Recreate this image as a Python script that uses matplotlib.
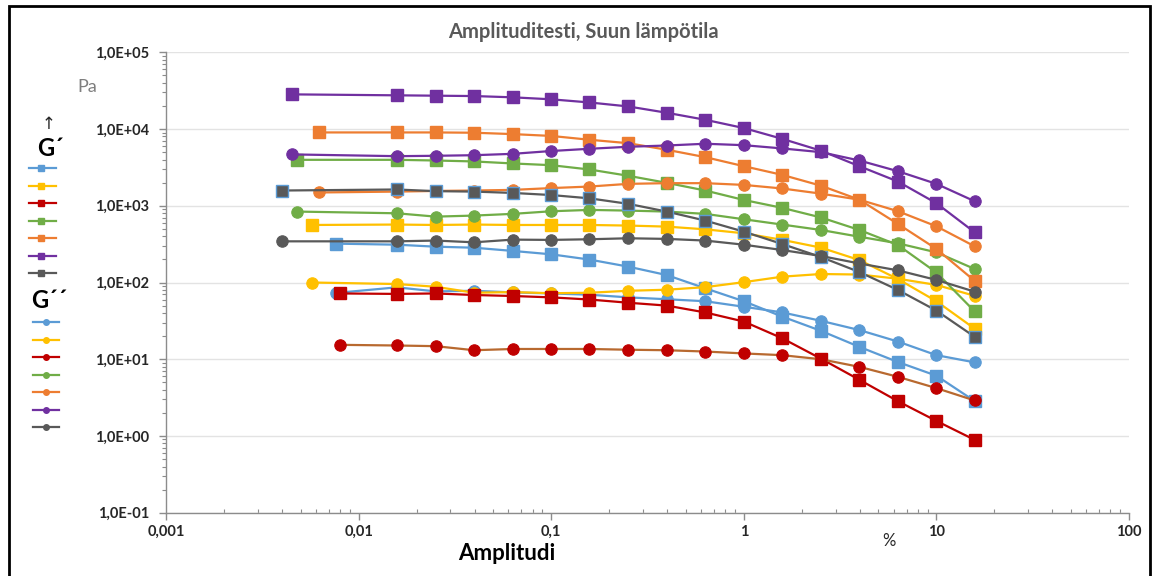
import matplotlib
matplotlib.use("Agg")
import matplotlib.pyplot as plt
from matplotlib.lines import Line2D
from matplotlib.patches import Rectangle
from matplotlib.ticker import LogLocator, FixedLocator, FixedFormatter, NullFormatter

plt.rcParams['font.family'] = ['Lato', 'DejaVu Sans']

# ---------------- data ----------------
x_common = [0.0158, 0.0251, 0.0398, 0.0631, 0.1, 0.158, 0.251, 0.398, 0.631,
            1.0, 1.58, 2.51, 3.98, 6.31, 10.0, 15.8]
first_x = [0.0076, 0.0057, 0.0080, 0.0048, 0.0062, 0.0045, 0.0040]

colors = ['#5B9BD5', '#FFC000', '#C00000', '#70AD47', '#ED7D31', '#7030A0', '#595959']
gpp_line_colors = ['#5B9BD5', '#FFC000', '#B8692F', '#70AD47', '#ED7D31', '#7030A0', '#595959']
gp_edge_colors = ['#5B9BD5', '#FFC000', '#C00000', '#70AD47', '#ED7D31', '#7030A0', '#5B9BD5']

g_blue_p = [321, 311, 293, 284, 258, 233, 199, 161, 125, 84, 57, 36, 23.5, 14.5, 9.2, 6.1, 2.85]
g_blue_pp = [73, 86.5, 76.6, 78, 74.3, 72, 69.3, 64, 60.5, 57, 48.3, 40.8, 31.7, 24, 17, 11.3, 9.1]
g_yellow_p = [562, 569, 562, 569, 562, 562, 562, 552, 535, 493, 438, 360, 285, 196, 111, 57, 25]
g_yellow_pp = [100, 95.5, 88, 73.5, 75, 72.5, 73.5, 78, 80.5, 87, 101, 119, 129, 127, 112, 93, 67]
g_red_p = [72, 71, 72, 68.7, 66.7, 64, 60, 54.5, 50, 40.7, 31, 18.8, 10.2, 5.4, 2.84, 1.57, 0.89]
g_red_pp = [15.4, 15.1, 14.8, 13.1, 13.6, 13.6, 13.6, 13.3, 13.1, 12.6, 11.9, 11.3, 10.0, 7.96, 5.9, 4.2, 2.9]
g_green_p = [3970, 3970, 3890, 3780, 3560, 3380, 2970, 2460, 1990, 1580, 1190, 940, 705, 484, 308, 135, 42]
g_green_pp = [840, 798, 722, 745, 784, 848, 883, 865, 840, 784, 667, 569, 484, 395, 324, 247, 150]
g_orange_p = [9030, 9030, 9030, 8950, 8590, 8130, 7250, 6540, 5370, 4300, 3280, 2530, 1830, 1200, 580, 274, 105]
g_orange_pp = [1490, 1530, 1560, 1580, 1610, 1700, 1780, 1930, 1970, 1970, 1870, 1680, 1440, 1200, 850, 540, 296]
g_purple_p = [28300, 27500, 27200, 26900, 25900, 24400, 22200, 19700, 16300, 13200, 10300, 7460, 5230, 3280, 2070, 1080, 451]
g_purple_pp = [4670, 4430, 4480, 4560, 4750, 5170, 5530, 5870, 6100, 6430, 6160, 5590, 5000, 3890, 2820, 1930, 1145]
g_gray_p = [1580, 1630, 1550, 1530, 1470, 1380, 1250, 1060, 840, 641, 460, 318, 215, 137, 80, 43, 19.6]
g_gray_pp = [344, 344, 352, 334, 362, 359, 366, 377, 370, 352, 311, 265, 222, 177, 144, 108, 76]

gp_series = [g_blue_p, g_yellow_p, g_red_p, g_green_p, g_orange_p, g_purple_p, g_gray_p]
gpp_series = [g_blue_pp, g_yellow_pp, g_red_pp, g_green_pp, g_orange_pp, g_purple_pp, g_gray_pp]

y_ticks = [1e-1, 1e0, 1e1, 1e2, 1e3, 1e4, 1e5]
y_ticklabels = ['1,0E-01', '1,0E+00', '1,0E+01', '1,0E+02', '1,0E+03', '1,0E+04', '1,0E+05']
x_ticks = [0.001, 0.01, 0.1, 1, 10, 100]
x_ticklabels = ['0,001', '0,01', '0,1', '1', '10', '100']

title = 'Amplituditesti, Suun lämpötila'

# ---------------- figure ----------------
W, H = 1158, 576
fig = plt.figure(figsize=(W / 100, H / 100), dpi=100)
fig.patch.set_facecolor('white')

ax = fig.add_axes([166 / W, 1 - 512.7 / H, (1129 - 166) / W, (512.7 - 52.3) / H])
ax.set_xscale('log')
ax.set_yscale('log')
ax.set_xlim(0.001, 100)
ax.set_ylim(0.1, 1e5)

for i in range(7):
    xs = [first_x[i]] + x_common
    ax.plot(xs, gp_series[i], color=colors[i], lw=1.6, marker='s', ms=8.2,
            mfc=colors[i], mec=gp_edge_colors[i], mew=1.0, zorder=3 + 2 * i)
    ax.plot(xs, gpp_series[i], color=gpp_line_colors[i], lw=1.6, marker='o', ms=8.2,
            mfc=colors[i], mec=colors[i], mew=0.8, zorder=4 + 2 * i)

# grid & spines
ax.yaxis.set_major_locator(FixedLocator(y_ticks))
ax.yaxis.set_major_formatter(FixedFormatter(y_ticklabels))
ax.xaxis.set_major_locator(FixedLocator(x_ticks))
ax.xaxis.set_major_formatter(FixedFormatter(x_ticklabels))
ax.yaxis.set_minor_locator(LogLocator(base=10, subs=range(2, 10), numticks=20))
ax.xaxis.set_minor_locator(LogLocator(base=10, subs=range(2, 10), numticks=20))
ax.xaxis.set_minor_formatter(NullFormatter())
ax.yaxis.set_minor_formatter(NullFormatter())

ax.grid(True, which='major', axis='y', color='#E3E3E3', lw=1.0, zorder=0)
ax.set_axisbelow(True)
for s in ['top', 'right']:
    ax.spines[s].set_visible(False)
for s in ['left', 'bottom']:
    ax.spines[s].set_color('#8C8C8C')
    ax.spines[s].set_linewidth(1.0)

ax.tick_params(axis='y', which='major', direction='out', length=5, width=1,
               color='#8C8C8C', pad=7, labelsize=10.5, labelcolor='#262626')
ax.tick_params(axis='y', which='minor', direction='out', length=3, width=0.8, color='#8C8C8C')
ax.tick_params(axis='x', which='major', direction='out', length=5, width=1,
               color='#8C8C8C', pad=4, labelsize=10.5, labelcolor='#262626')
ax.tick_params(axis='x', which='minor', direction='in', length=3, width=0.8, color='#8C8C8C')
for lab in ax.get_xticklabels() + ax.get_yticklabels():
    lab.set_fontweight('bold')

# ---------------- texts ----------------
fig.text(583 / W, 1 - 32 / H, title, ha='center', va='center', fontsize=14.5,
         fontweight='bold', color='#595959')
fig.text(507 / W, 1 - 554 / H, 'Amplitudi', ha='center', va='center', fontsize=16,
         fontweight='bold', color='black')
fig.text(889 / W, 1 - 541 / H, '%', ha='center', va='center', fontsize=12, color='#262626')
fig.text(87 / W, 1 - 87 / H, 'Pa', ha='center', va='center', fontsize=13, color='#7F7F7F')
fig.text(49 / W, 1 - 124 / H, '↑', ha='center', va='center', fontsize=12,
         color='#262626', family=['DejaVu Sans'])
fig.text(50 / W, 1 - 149 / H, 'G´', ha='center', va='center', fontsize=17,
         fontweight='bold', color='black')
fig.text(49 / W, 1 - 300 / H, 'G´´', ha='center', va='center', fontsize=17,
         fontweight='bold', color='black')

# ---------------- legend swatches ----------------
gp_leg_y = [168, 185.5, 203, 220.5, 238, 255.5, 273]
gpp_leg_y = [322, 339.5, 357, 374.5, 392, 409.5, 427]
for i in range(7):
    y = 1 - gp_leg_y[i] / H
    fig.add_artist(Line2D([29 / W, 41 / W, 56 / W], [y, y, y], color=colors[i], lw=1.6,
                          marker='s', ms=4, markevery=[1], mfc=colors[i], mec=colors[i]))
    y = 1 - gpp_leg_y[i] / H
    fig.add_artist(Line2D([33 / W, 46 / W, 59 / W], [y, y, y], color=colors[i], lw=1.6,
                          marker='o', ms=4, markevery=[1], mfc=colors[i], mec=colors[i]))

# frame
fig.add_artist(Rectangle((9 / W, -0.05), (1150 - 9) / W, 1.05 - 6 / H, transform=fig.transFigure,
                         fill=False, edgecolor='black', lw=2.0))

fig.savefig('out.png', dpi=100)
